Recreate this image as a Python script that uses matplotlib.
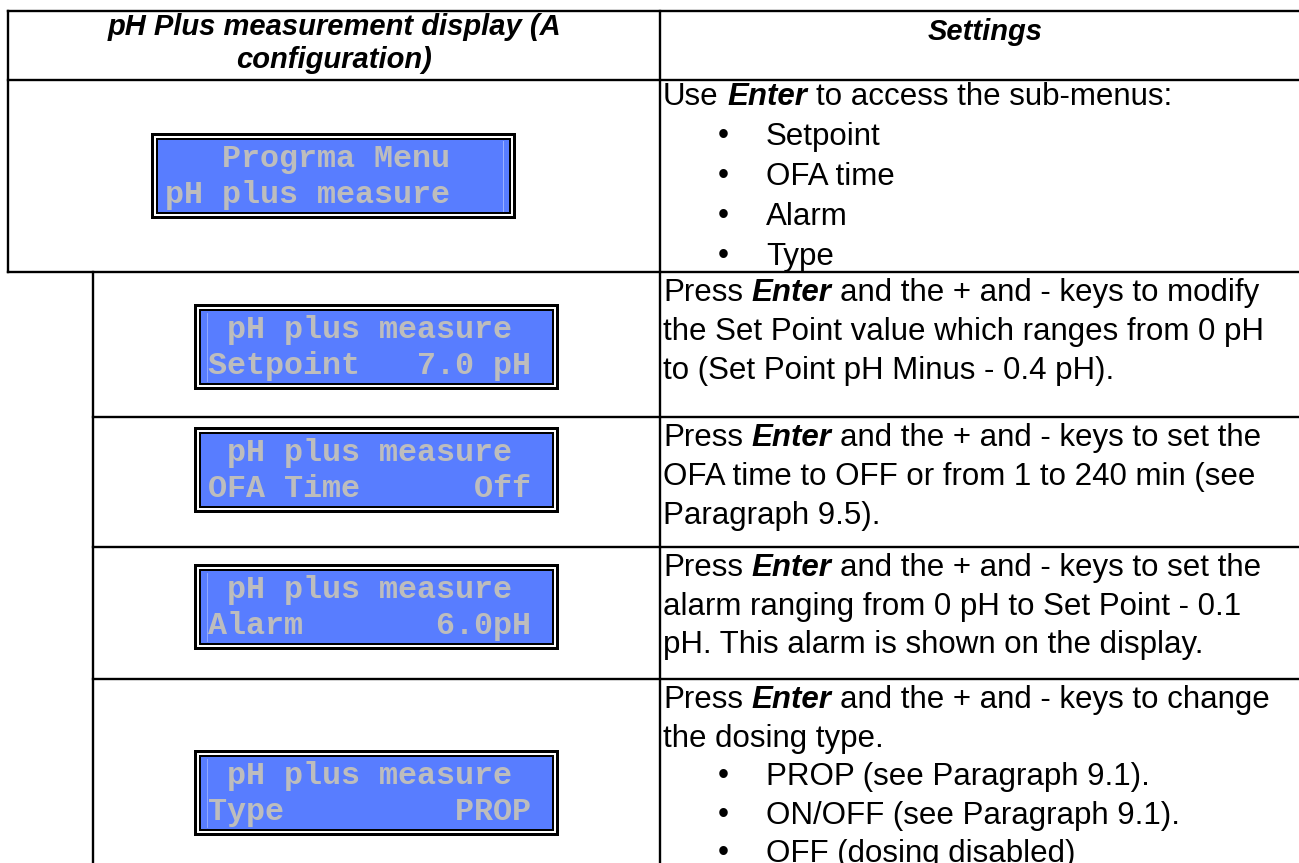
import matplotlib.pyplot as plt
from matplotlib.patches import Rectangle

# table content
header_left = ["pH Plus measurement display (A", "configuration)"]
header_right = "Settings"

lcd_line1 = ["   Progrma Menu", " pH plus measure", " pH plus measure",
             " pH plus measure", " pH plus measure"]
lcd_line2 = ["pH plus measure", "Setpoint   7.0 pH", "OFA Time      Off",
             "Alarm       6.0pH", "Type         PROP"]

# "- " prefix marks a bullet item, **...** marks bold italic
settings_text = [
    ["Use **Enter** to access the sub-menus:", "- Setpoint", "- OFA time",
     "- Alarm", "- Type"],
    ["Press **Enter** and the + and - keys to modify",
     "the Set Point value which ranges from 0 pH",
     "to (Set Point pH Minus - 0.4 pH)."],
    ["Press **Enter** and the + and - keys to set the",
     "OFA time to OFF or from 1 to 240 min (see",
     "Paragraph 9.5)."],
    ["Press **Enter** and the + and - keys to set the",
     "alarm ranging from 0 pH to Set Point - 0.1",
     "pH. This alarm is shown on the display."],
    ["Press **Enter** and the + and - keys to change",
     "the dosing type.",
     "- PROP (see Paragraph 9.1).",
     "- ON/OFF (see Paragraph 9.1).",
     "- OFF (dosing disabled)"],
]

# layout (pixels)
W, H = 1299, 863
table_top, header_bot = 11, 80
row_bots = [272, 417, 547, 679]
left_x, nest_x, div_x = 8, 93, 660
lcd_x = [151, 194, 194, 194, 194]
lcd_y = [133, 304, 427, 564, 750]
lcd_w, lcd_h = 365, 86
text_y0 = [105, 301, 446, 576, 708]
line_step = [40, 39, 39, 38.5, 38.5]
glint_side = ['right', 'left', None, 'left', 'left']  # faint light edge in some displays

LCD_BLUE = '#587dff'
LCD_TEXT = '#bdbdbd'
LW = 1.7
BODY = dict(family='Liberation Sans', fontsize=22.5, color='black')

fig = plt.figure(figsize=(W / 100, H / 100), dpi=100)
ax = fig.add_axes([0, 0, 1, 1])
ax.set_xlim(0, W)
ax.set_ylim(H, 0)
ax.axis('off')

# grid lines
ax.plot([left_x, W], [table_top, table_top], color='black', lw=LW)
ax.plot([left_x, W], [header_bot, header_bot], color='black', lw=LW)
ax.plot([left_x, W], [row_bots[0], row_bots[0]], color='black', lw=LW)
for yb in row_bots[1:]:
    ax.plot([nest_x, W], [yb, yb], color='black', lw=LW)
ax.plot([left_x, left_x], [table_top, row_bots[0]], color='black', lw=LW)
ax.plot([nest_x, nest_x], [row_bots[0], H], color='black', lw=LW)
ax.plot([div_x, div_x], [table_top, H], color='black', lw=LW)

# headers
hdr = dict(family='Liberation Sans', fontsize=21, fontweight='bold',
           fontstyle='italic', ha='center', va='baseline')
ax.text((left_x + div_x) / 2, 35, header_left[0], **hdr)
ax.text((left_x + div_x) / 2, 68, header_left[1], **hdr)
ax.text(985, 40, header_right, **hdr)

# lcd displays
for i in range(len(lcd_line1)):
    x0, y0 = lcd_x[i], lcd_y[i]
    for inset, col in [(0, 'black'), (3, 'white'), (5, 'black'), (7, LCD_BLUE)]:
        ax.add_patch(Rectangle((x0 + inset, y0 + inset), lcd_w - 2 * inset,
                               lcd_h - 2 * inset, facecolor=col, edgecolor='none'))
    if glint_side[i] == 'right':
        gx = x0 + lcd_w - 13
        ax.plot([gx, gx], [y0 + 8, y0 + lcd_h - 8], color='#9cb2ff', lw=0.7)
    elif glint_side[i] == 'left':
        gx = x0 + 13
        ax.plot([gx, gx], [y0 + 9, y0 + lcd_h - 9], color='#9cb2ff', lw=0.6)
    for j, s in enumerate([lcd_line1[i], lcd_line2[i]]):
        ax.text(x0 + 14, y0 + 34 + 36 * j, s, family='Liberation Mono',
                fontweight='bold', fontsize=22.9, color=LCD_TEXT,
                ha='left', va='baseline')

renderer = fig.canvas.get_renderer()


def width_of(s, **kw):
    t = ax.text(0, 0, s, **kw)
    w = t.get_window_extent(renderer).width
    t.remove()
    return w


space_w = width_of("x x", **BODY) - width_of("xx", **BODY)


def draw_rich(x, y, line):
    parts = line.split("**")
    for k, part in enumerate(parts):
        if not part:
            continue
        kw = dict(BODY)
        if k % 2 == 1:
            kw.update(fontweight='bold', fontstyle='italic')
        lead = len(part) - len(part.lstrip(' '))
        x += lead * space_w
        core = part.strip(' ')
        t = ax.text(x, y, core, ha='left', va='baseline', **kw)
        x += t.get_window_extent(renderer).width
        x += (len(part) - len(part.rstrip(' '))) * space_w


for r, lines in enumerate(settings_text):
    for j, line in enumerate(lines):
        y = text_y0[r] + line_step[r] * j
        if line.startswith("- "):
            ax.text(723, y - 1, "\u2022", ha='center', va='baseline', **BODY)
            draw_rich(766, y, line[2:])
        else:
            draw_rich(663, y, line)

fig.savefig("out.png", dpi=100)
